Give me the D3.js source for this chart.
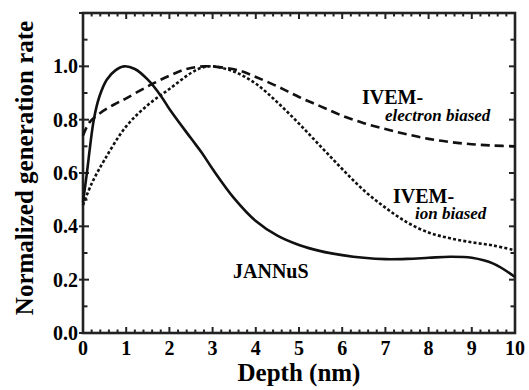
<!DOCTYPE html>
<html><head><meta charset="utf-8">
<script src="https://cdn.jsdelivr.net/npm/d3@7"></script>
<style>body{margin:0;background:#fff}</style>
</head><body>
<script>
const xTicks = [0,1,2,3,4,5,6,7,8,9,10];
const yTicks = [0.0,0.2,0.4,0.6,0.8,1.0];
const yTickLabels = ["0.0","0.2","0.4","0.6","0.8","1.0"];
const jannusDepth = [0,0.09,0.25,0.38,0.55,0.75,0.95,1.2,1.5,1.8,2.0,2.5,2.75,3.0,3.5,4.0,4.5,5.0,5.5,6.0,6.5,7.0,7.5,8.0,8.5,9.0,9.5,10];
const jannusRate  = [0.49,0.6,0.8,0.887,0.95,0.985,1.0,0.99,0.95,0.89,0.84,0.73,0.676,0.615,0.505,0.42,0.365,0.33,0.307,0.292,0.282,0.277,0.278,0.282,0.286,0.282,0.26,0.21];
const electronDepth = [0,0.15,0.4,0.7,1.0,1.5,2.0,2.4,2.8,3.2,3.6,4.0,4.5,5.0,5.5,6.0,6.5,7.0,7.5,8.0,8.5,9.0,9.5,10];
const electronRate  = [0.74,0.79,0.825,0.855,0.88,0.925,0.965,0.99,1.0,0.996,0.985,0.96,0.925,0.885,0.85,0.815,0.787,0.765,0.745,0.728,0.716,0.708,0.703,0.70];
const ionDepth = [0,0.2,0.5,1.0,1.5,2.0,2.5,2.75,3.0,3.5,4.0,4.5,5.0,5.5,6.0,6.5,7.0,7.5,8.0,8.5,9.0,9.5,10];
const ionRate  = [0.48,0.56,0.65,0.775,0.855,0.915,0.975,0.995,1.0,0.98,0.935,0.865,0.785,0.7,0.615,0.535,0.47,0.415,0.377,0.355,0.34,0.328,0.31];

const W=529,H=390;
const m={l:83,r:14,t:13,b:57};
const svg=d3.select("body").append("svg").attr("width",W).attr("height",H)
  .attr("font-family","Liberation Serif").attr("font-weight","bold");
const x=d3.scaleLinear().domain([0,10]).range([m.l,W-m.r]);
const y=d3.scaleLinear().domain([0,1.2]).range([H-m.b,m.t]);

function label(px,py,size,str,opts){
  const t=svg.append("text").attr("font-family","Liberation Serif").attr("font-weight","bold")
    .attr("x",px).attr("y",py).attr("font-size",size).text(str);
  if(opts&&opts.anchor) t.attr("text-anchor",opts.anchor);
  if(opts&&opts.italic) t.attr("font-style","italic");
  if(opts&&opts.rotate) t.attr("transform",`rotate(-90,${px},${py})`);
  return t;
}

// ticks
const minorX=d3.range(0,10.001,0.2);
const minorY=d3.range(0,1.2001,0.1);
const tk=svg.append("g").attr("stroke","#222").attr("stroke-width",2);
minorX.forEach(v=>{
  const major=Math.abs(v-Math.round(v))<1e-6;
  const L=major?6:3.5;
  tk.append("line").attr("x1",x(v)).attr("x2",x(v)).attr("y1",y(0)).attr("y2",y(0)-L);
  tk.append("line").attr("x1",x(v)).attr("x2",x(v)).attr("y1",y(1.2)).attr("y2",y(1.2)+L);
});
minorY.forEach(v=>{
  const major=Math.abs(v*5-Math.round(v*5))<1e-6;
  const L=major?6:4.5;
  tk.append("line").attr("x1",x(0)-(major?4:0)).attr("x2",x(0)+L).attr("y1",y(v)).attr("y2",y(v));
  tk.append("line").attr("x1",x(10)).attr("x2",x(10)-L).attr("y1",y(v)).attr("y2",y(v));
});
// frame
svg.append("rect").attr("x",x(0)).attr("y",y(1.2)).attr("width",x(10)-x(0)).attr("height",y(0)-y(1.2))
 .attr("fill","none").attr("stroke","#222").attr("stroke-width",2.6);

// tick labels
xTicks.forEach(d=>label(x(d),y(0)+22,20,String(d),{anchor:"middle"}));
yTicks.forEach((d,i)=>label(x(0)-5,y(d)+7,20,yTickLabels[i],{anchor:"end"}));

// axis titles
label((x(0)+x(10))/2,381,25,"Depth (nm)",{anchor:"middle"});
label(33,(y(0)+y(1.2))/2-5,25,"Normalized generation rate",{anchor:"middle",rotate:true});

// curves
const line=d3.line().x(d=>x(d[0])).y(d=>y(d[1])).curve(d3.curveCatmullRom.alpha(0.5));
const mk=(xs,ys)=>xs.map((v,i)=>[v,ys[i]]);
const cg=svg.append("g").attr("fill","none").attr("stroke","#111").attr("stroke-width",2.6);
cg.append("path").attr("d",line(mk(electronDepth,electronRate))).attr("stroke-dasharray","9,5");
cg.append("path").attr("d",line(mk(ionDepth,ionRate))).attr("stroke-dasharray","3,2.2");
cg.append("path").attr("d",line(mk(jannusDepth,jannusRate)));

// labels
label(362,104,20,"IVEM-");
label(385,121,17,"electron biased",{italic:true});
label(393,203,20,"IVEM-");
label(415,219,17,"ion biased",{italic:true});
label(233,278,20,"JANNuS");
</script>
</body></html>
